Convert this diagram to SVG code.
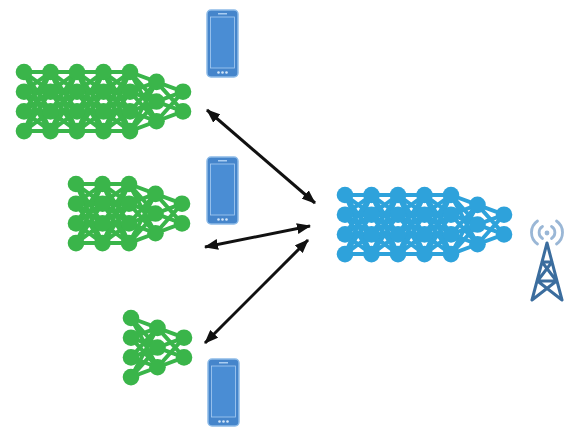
<svg xmlns="http://www.w3.org/2000/svg" xmlns:xlink="http://www.w3.org/1999/xlink" width="571" height="428" viewBox="0 0 571 428">
  <style>
    .green { fill: #3ab54a; stroke: #3ab54a; }
    .blue { fill: #2ea2db; stroke: #2ea2db; }
    .edges { fill: none; stroke-width: 4; }
    .arrow { stroke: #111; stroke-width: 3; fill: none; }
    .tower { stroke: #3b6d9e; stroke-width: 3; fill: none; stroke-linecap: round; stroke-linejoin: round; }
    .waves { stroke: #9ab7d6; stroke-width: 2.8; fill: none; stroke-linecap: round; }
  </style>
  <defs>
    <!-- fully connected layer blocks: 4->4, 4->3, 3->2 -->
    <path id="l44" class="edges" d="M0 0L26.5 0M0 0L26.5 19.7M0 0L26.5 39.4M0 0L26.5 59.1M0 19.7L26.5 0M0 19.7L26.5 19.7M0 19.7L26.5 39.4M0 19.7L26.5 59.1M0 39.4L26.5 0M0 39.4L26.5 19.7M0 39.4L26.5 39.4M0 39.4L26.5 59.1M0 59.1L26.5 0M0 59.1L26.5 19.7M0 59.1L26.5 39.4M0 59.1L26.5 59.1"/>
    <path id="l43" class="edges" d="M0 0L26.5 9.85M0 0L26.5 29.55M0 0L26.5 49.25M0 19.7L26.5 9.85M0 19.7L26.5 29.55M0 19.7L26.5 49.25M0 39.4L26.5 9.85M0 39.4L26.5 29.55M0 39.4L26.5 49.25M0 59.1L26.5 9.85M0 59.1L26.5 29.55M0 59.1L26.5 49.25"/>
    <path id="l32" class="edges" d="M0 9.85L26.5 19.7M0 9.85L26.5 39.4M0 29.55L26.5 19.7M0 29.55L26.5 39.4M0 49.25L26.5 19.7M0 49.25L26.5 39.4"/>
    <!-- neuron columns -->
    <g id="c4" stroke="none"><circle cx="0" cy="0" r="8.3"/><circle cx="0" cy="19.7" r="8.3"/><circle cx="0" cy="39.4" r="8.3"/><circle cx="0" cy="59.1" r="8.3"/></g>
    <g id="c3" stroke="none"><circle cx="0" cy="9.85" r="8.3"/><circle cx="0" cy="29.55" r="8.3"/><circle cx="0" cy="49.25" r="8.3"/></g>
    <g id="c2" stroke="none"><circle cx="0" cy="19.7" r="8.3"/><circle cx="0" cy="39.4" r="8.3"/></g>
    <!-- smartphone icon -->
    <g id="phone">
      <rect x="0" y="0" width="31" height="67" rx="4" fill="#4585cb" stroke="#8dbbe8" stroke-width="1.5"/>
      <rect x="3.5" y="7" width="24" height="51" fill="#4a8dd4" stroke="#a9cdf2" stroke-width="0.8"/>
      <rect x="11" y="3" width="9" height="1.5" fill="#a9cdf2"/>
      <circle cx="11.5" cy="62.5" r="1.3" fill="#d2e5f8"/>
      <circle cx="15.5" cy="62.5" r="1.3" fill="#d2e5f8"/>
      <circle cx="19.5" cy="62.5" r="1.3" fill="#d2e5f8"/>
    </g>
    <marker id="head" viewBox="0 0 14 11" refX="13" refY="5.5" markerWidth="14" markerHeight="11" markerUnits="userSpaceOnUse" orient="auto-start-reverse">
      <path d="M0 0L14 5.5L0 11z" fill="#111"/>
    </marker>
  </defs>

  <rect width="571" height="428" fill="#ffffff"/>

  <g id="net-large-green" class="green" transform="translate(24,72)">
    <use href="#l44" x="0"/><use href="#l44" x="26.5"/><use href="#l44" x="53"/><use href="#l44" x="79.5"/>
    <use href="#l43" x="106"/><use href="#l32" x="132.5"/>
    <use href="#c4" x="0"/><use href="#c4" x="26.5"/><use href="#c4" x="53"/><use href="#c4" x="79.5"/><use href="#c4" x="106"/>
    <use href="#c3" x="132.5"/><use href="#c2" x="159"/>
  </g>

  <g id="net-medium-green" class="green" transform="translate(76,184)">
    <use href="#l44" x="0"/><use href="#l44" x="26.5"/>
    <use href="#l43" x="53"/><use href="#l32" x="79.5"/>
    <use href="#c4" x="0"/><use href="#c4" x="26.5"/><use href="#c4" x="53"/>
    <use href="#c3" x="79.5"/><use href="#c2" x="106"/>
  </g>

  <g id="net-small-green" class="green" transform="translate(131,318)">
    <use href="#l43" x="0"/><use href="#l32" x="26.5"/>
    <use href="#c4" x="0"/><use href="#c3" x="26.5"/><use href="#c2" x="53"/>
  </g>

  <g id="net-server-blue" class="blue" transform="translate(345,195)">
    <use href="#l44" x="0"/><use href="#l44" x="26.5"/><use href="#l44" x="53"/><use href="#l44" x="79.5"/>
    <use href="#l43" x="106"/><use href="#l32" x="132.5"/>
    <use href="#c4" x="0"/><use href="#c4" x="26.5"/><use href="#c4" x="53"/><use href="#c4" x="79.5"/><use href="#c4" x="106"/>
    <use href="#c3" x="132.5"/><use href="#c2" x="159"/>
  </g>

  <g id="phone-1"><use href="#phone" x="207" y="10"/></g>
  <g id="phone-2"><use href="#phone" x="207" y="157"/></g>
  <g id="phone-3"><use href="#phone" x="208" y="359"/></g>

  <g id="base-station">
    <path class="waves" d="M542.5 226.5A7 7 0 0 0 542.5 238.5M551.5 226.5A7 7 0 0 1 551.5 238.5M537.5 221A14 14 0 0 0 537.5 244M556.5 221A14 14 0 0 1 556.5 244"/>
    <circle cx="547" cy="233" r="2.4" fill="#9ab7d6"/>
    <path class="tower" d="M547 243L532 300M547 243L562 300M542 262H552M537.5 281H556.5M542 262L556.5 281M552 262L537.5 281M537.5 281L562 300M556.5 281L532 300"/>
  </g>

  <g id="connectors">
    <line class="arrow" x1="207" y1="110" x2="315" y2="203" marker-start="url(#head)" marker-end="url(#head)"/>
    <line class="arrow" x1="205" y1="247" x2="310" y2="226" marker-start="url(#head)" marker-end="url(#head)"/>
    <line class="arrow" x1="205" y1="343" x2="308" y2="240" marker-start="url(#head)" marker-end="url(#head)"/>
  </g>
</svg>
